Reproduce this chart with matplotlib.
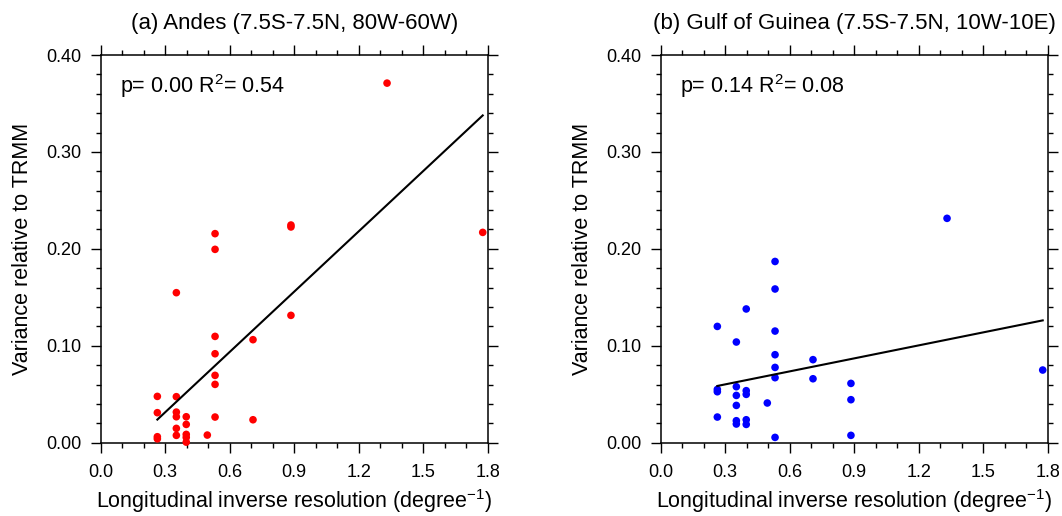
#!/usr/bin/env python3

import matplotlib
matplotlib.use('Agg')
import matplotlib.pyplot as plt
import numpy as np

plt.rcParams['font.family'] = ['Liberation Sans', 'DejaVu Sans']
plt.rcParams['mathtext.fontset'] = 'custom'
plt.rcParams['mathtext.rm'] = 'Liberation Sans'

# inverse resolution of each model (degree^-1)
res_andes = [1.332, 1.777, 0.885, 0.885, 0.532, 0.532, 0.352, 0.885, 0.532, 0.7085,
             0.532, 0.532, 0.532, 0.2636, 0.352, 0.2636, 0.352, 0.352, 0.398, 0.532,
             0.7085, 0.398, 0.352, 0.496, 0.352, 0.398, 0.398, 0.398, 0.2636, 0.2636]
var_andes = [0.371, 0.217, 0.2246, 0.2226, 0.2157, 0.1995, 0.1548, 0.1314, 0.1097, 0.1063,
             0.0918, 0.0695, 0.0602, 0.0478, 0.0475, 0.031, 0.0316, 0.0268, 0.0268, 0.0265,
             0.0237, 0.0189, 0.0148, 0.0079, 0.0076, 0.0086, 0.0055, 0.0006, 0.0062, 0.004]

res_guinea = [1.332, 1.777, 0.532, 0.532, 0.398, 0.2636, 0.532, 0.352, 0.532, 0.7085,
              0.532, 0.532, 0.7085, 0.885, 0.2636, 0.2636, 0.352, 0.398, 0.398, 0.352,
              0.496, 0.885, 0.352, 0.2636, 0.352, 0.352, 0.398, 0.398, 0.532, 0.885]
var_guinea = [0.2315, 0.075, 0.187, 0.1586, 0.138, 0.120, 0.1152, 0.1039, 0.0908, 0.0857,
              0.0777, 0.0671, 0.066, 0.0612, 0.055, 0.0526, 0.0578, 0.0537, 0.0499, 0.0488,
              0.041, 0.0444, 0.0385, 0.0265, 0.0227, 0.0193, 0.0237, 0.0189, 0.0055, 0.0076]

titles = ['(a) Andes (7.5S-7.5N, 80W-60W)', '(b) Gulf of Guinea (7.5S-7.5N, 10W-10E)']
stats = ['p= 0.00 R$^2$= 0.54', 'p= 0.14 R$^2$= 0.08']
colors = ['red', 'blue']

xticks = [0.0, 0.3, 0.6, 0.9, 1.2, 1.5, 1.8]
yticks = [0.0, 0.1, 0.2, 0.3, 0.4]


def panel(ax, xx, yy, title, stat, color):
	xx = np.array(xx)
	yy = np.array(yy)
	ax.scatter(xx, yy, s=30, color=color, edgecolors='none', zorder=3, clip_on=False)

	# least squares fit over the data range
	a, b = np.polyfit(xx, yy, 1)
	lx = np.array([xx.min(), xx.max()])
	ax.plot(lx, a * lx + b, color='black', lw=1.5, zorder=4)

	ax.set_xlim(0, 1.8)
	ax.set_ylim(0, 0.4)
	ax.set_xticks(xticks)
	ax.set_xticklabels(['%.1f' % v for v in xticks])
	ax.set_yticks(yticks)
	ax.set_yticklabels(['%.2f' % v for v in yticks])
	ax.set_xticks(np.arange(0, 1.81, 0.1), minor=True)
	ax.set_yticks(np.arange(0, 0.401, 0.02), minor=True)
	ax.tick_params(which='both', direction='out', top=True, right=True,
		labeltop=False, labelright=False, width=1.0)
	ax.tick_params(which='major', length=7, labelsize=13)
	ax.tick_params(axis='x', which='major', pad=8)
	ax.tick_params(axis='y', which='major', pad=7)
	ax.tick_params(which='minor', length=3.5)
	for s in ax.spines.values():
		s.set_linewidth(1.1)

	ax.set_title(title, fontsize=16, pad=19)
	ax.set_xlabel('Longitudinal inverse resolution (degree$^{-1}$)', fontsize=15.5, labelpad=5)
	ax.set_ylabel('Variance relative to TRMM', fontsize=15.5, labelpad=9)
	ax.text(0.05, 0.901, stat, transform=ax.transAxes, fontsize=15.5, va='baseline')


fig = plt.figure(figsize=(10.62, 5.16), dpi=100)
ax1 = fig.add_axes([0.0948, 0.142, 0.3644, 0.7514])
ax2 = fig.add_axes([0.6221, 0.142, 0.3644, 0.7514])

panel(ax1, res_andes, var_andes, titles[0], stats[0], colors[0])
panel(ax2, res_guinea, var_guinea, titles[1], stats[1], colors[1])

fig.savefig('out.png', dpi=100)
